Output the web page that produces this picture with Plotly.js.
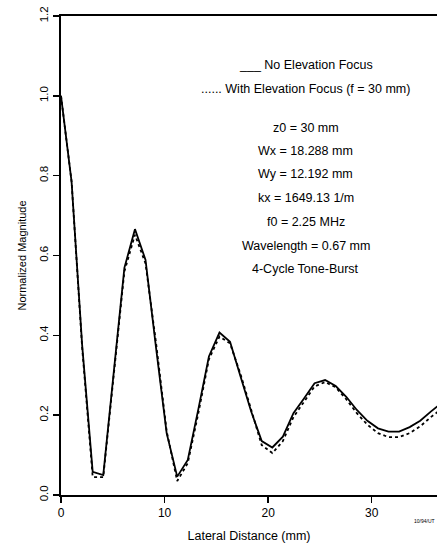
<!DOCTYPE html>
<html>
<head>
<meta charset="utf-8">
<script src="https://cdn.plot.ly/plotly-3.0.1.min.js"></script>
<style>html,body{margin:0;padding:0;background:#fff;}#chart{width:437px;height:543px;}</style>
</head>
<body>
<div id="chart"></div>
<script>
// Lateral distance (mm)
const lateralDistance = [0, 1.02, 2.04, 3.06, 4.08, 5.10, 6.12, 7.14, 8.16, 9.18, 10.2, 11.22, 12.24, 13.26, 14.28, 15.3, 16.32, 17.34, 18.36, 19.38, 20.4, 21.42, 22.44, 23.46, 24.48, 25.5, 26.52, 27.54, 28.56, 29.58, 30.6, 31.62, 32.64, 33.66, 34.68, 35.7, 36.72];
// No elevation focus (solid)
const noElevationFocus = [1.0, 0.785, 0.376, 0.058, 0.05, 0.306, 0.569, 0.666, 0.589, 0.368, 0.155, 0.046, 0.088, 0.215, 0.347, 0.407, 0.384, 0.296, 0.209, 0.135, 0.119, 0.146, 0.205, 0.242, 0.28, 0.288, 0.273, 0.246, 0.213, 0.186, 0.167, 0.159, 0.159, 0.17, 0.186, 0.209, 0.23];
// With elevation focus f = 30 mm (dotted)
const withElevationFocus = [1.0, 0.785, 0.37, 0.045, 0.045, 0.3, 0.56, 0.652, 0.58, 0.38, 0.16, 0.035, 0.08, 0.205, 0.34, 0.397, 0.38, 0.302, 0.212, 0.125, 0.105, 0.135, 0.195, 0.235, 0.272, 0.283, 0.27, 0.24, 0.205, 0.176, 0.155, 0.145, 0.145, 0.155, 0.172, 0.195, 0.215];
const xTicks = [0, 10, 20, 30];
const yTicks = [0.0, 0.2, 0.4, 0.6, 0.8, 1.0, 1.2];
const infoLines = [
  "___ No Elevation Focus",
  "...... With Elevation Focus (f = 30 mm)",
  "z0 = 30 mm",
  "Wx = 18.288 mm",
  "Wy = 12.192 mm",
  "kx = 1649.13 1/m",
  "f0 = 2.25 MHz",
  "Wavelength = 0.67 mm",
  "4-Cycle Tone-Burst"
];
const infoY = [1.078, 1.018, 0.92, 0.862, 0.805, 0.744, 0.684, 0.624, 0.566];

const font = "Liberation Sans, Arial, sans-serif";
const fs = 12.5;
const traces = [
  {x: lateralDistance, y: noElevationFocus, type: 'scatter', mode: 'lines',
   line: {color: '#000', width: 1.8}, name: 'No Elevation Focus'},
  {x: lateralDistance, y: withElevationFocus, type: 'scatter', mode: 'lines',
   line: {color: '#000', width: 1.8, dash: 'dot'}, name: 'With Elevation Focus'}
];
const annotations = infoLines.map((t, i) => ({
  text: t, x: 23.65, y: infoY[i], xref: 'x', yref: 'y', showarrow: false,
  xanchor: 'center', yanchor: 'middle', font: {family: font, size: fs, color: '#000'}
}));
annotations.push({text: '10/94/UT', xref: 'paper', yref: 'paper', x: 1.0, y: -0.055,
  xanchor: 'right', yanchor: 'middle', showarrow: false, font: {family: font, size: 5, color: '#000'}});

const layout = {
  width: 437, height: 543,
  margin: {l: 61, r: 0, t: 16, b: 48},
  paper_bgcolor: '#fff', plot_bgcolor: '#fff',
  showlegend: false,
  font: {family: font, color: '#000'},
  xaxis: {
    range: [0, 36.3], tickvals: xTicks, ticktext: xTicks.map(String),
    showgrid: false, zeroline: false, showline: true, linewidth: 2, linecolor: '#000', mirror: true,
    ticks: 'outside', ticklen: 6, tickwidth: 1.5, tickcolor: '#000',
    tickfont: {family: font, size: 12, color: '#000'},
    title: {text: 'Lateral Distance (mm)', font: {family: font, size: fs, color: '#000'}, standoff: 15}
  },
  yaxis: {
    range: [0, 1.2], tickvals: yTicks, ticktext: yTicks.map(v => v.toFixed(1)), tickangle: -90,
    showgrid: false, zeroline: false, showline: true, linewidth: 2, linecolor: '#000',
    ticks: 'outside', ticklen: 6, tickwidth: 1.5, tickcolor: '#000',
    tickfont: {family: font, size: 11.5, color: '#000'},
    title: {text: 'Normalized Magnitude', font: {family: font, size: 11, color: '#000'}, standoff: 10}
  },
  annotations: annotations
};
Plotly.newPlot('chart', traces, layout, {displayModeBar: false, staticPlot: true});
</script>
</body>
</html>
